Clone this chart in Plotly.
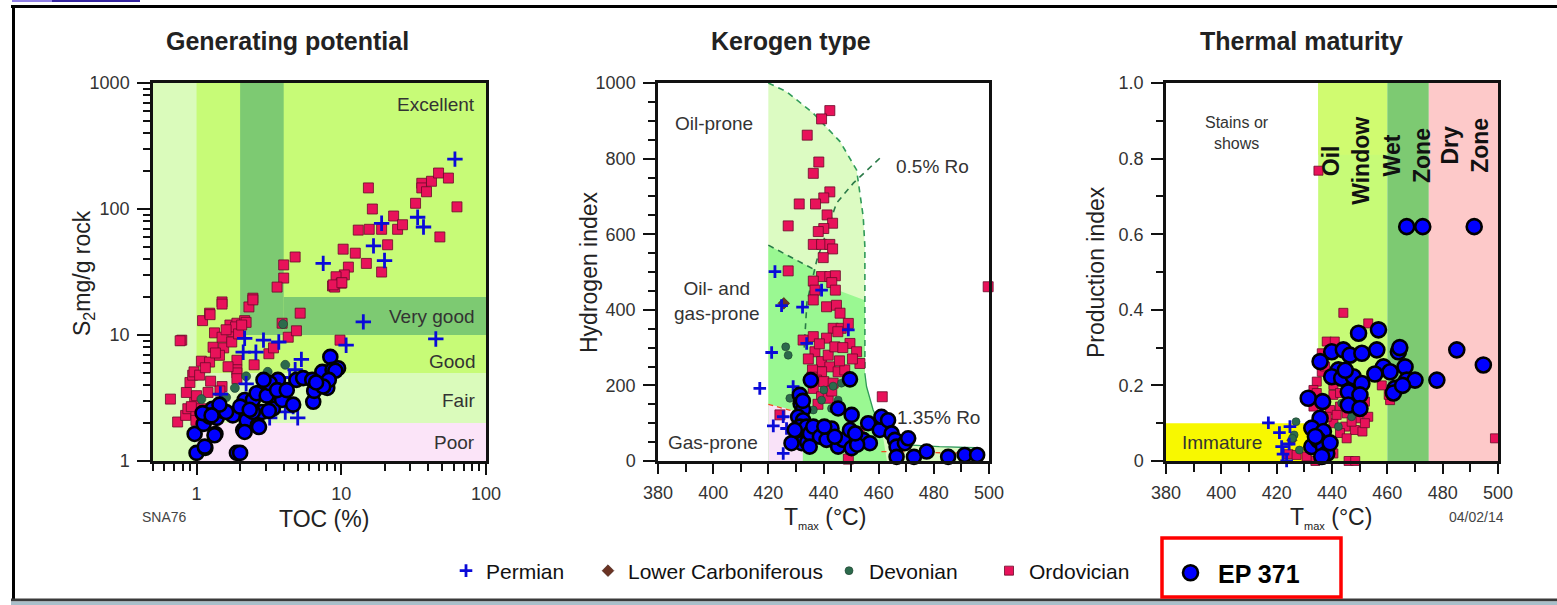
import math
import plotly.graph_objects as go

# ------------------------------------------------------------------
# Data
# ------------------------------------------------------------------
# Generating potential: TOC (%) vs S2 (mg/g rock)
gp_ord_toc = [15.4, 16.4, 13.1, 15.6, 19.0, 23.0, 24.5, 26.5, 20.9, 19.0,
              14.9, 12.5, 10.3, 11.2, 10.5, 9.2, 10.0, 8.7, 9.0, 32.6,
              36.0, 36.0, 38.8, 42.0, 47.0, 55.0, 63.0, 48.0, 4.8, 4.0,
              4.0, 3.6, 2.45, 1.5,
              0.79, 0.77, 0.66, 0.74, 0.84, 0.87, 0.85, 0.90, 0.94, 0.96,
              1.05, 1.08, 0.97, 1.10, 1.23, 1.24, 1.5, 1.3, 1.23, 1.33,
              1.5, 1.54, 1.44, 1.7, 1.78, 1.9, 1.86, 2.15, 2.2, 2.3,
              2.45, 1.9, 1.9, 1.9, 1.9, 2.5, 1.5, 1.45, 1.2, 1.1,
              1.08, 0.99, 0.99, 3.16, 3.4, 3.9, 4.3, 4.9, 5.2, 8.8,
              10.1, 9.8, 1.6, 1.75, 1.95, 2.05, 1.35, 1.15, 1.0, 0.92,
              1.25, 1.65]
gp_ord_s2 = [147, 100, 68, 69, 69, 88, 69, 75, 52, 31.6,
             37, 44.6, 48, 34.6, 30, 29, 25.8, 24.5, 24, 111,
             160, 147, 137, 166, 193, 176, 104, 60, 41.6, 36,
             28.3, 24, 19.6, 18.3,
             9.1, 9.0, 3.1, 2.04, 2.3, 2.6, 3.5, 4.2, 4.8, 5.1,
             4.8, 6.2, 2.9, 13, 14.9, 14.5, 17.6, 8.0, 6.1, 10.4,
             9.6, 7.9, 6.9, 12, 10.6, 12.4, 11.6, 13, 12.6, 16.7,
             19, 6.3, 5.3, 5.0, 4.5, 5.8, 3.9, 3.6, 3.5, 2.4,
             2.6, 2.4, 2.1, 7.1, 7.9, 12.4, 9.6, 10.8, 14.9, 25,
             26, 9.1, 11.0, 8.8, 10.2, 12.0, 7.2, 5.5, 3.3, 2.7,
             4.3, 5.6]
gp_perm_toc = [61, 7.5, 16.7, 19, 19.9, 33.7, 37, 14.2, 45, 10.8, 2.15, 2.9,
               3.7, 2.1, 2.57, 5.3, 4.8, 4.65, 5.0, 4.1, 3.2, 2.2, 1.46, 4.4]
gp_perm_s2 = [249, 37, 51, 77, 39, 86, 72, 12.7, 9.3, 8.3, 9.4, 9.1,
              8.8, 7.3, 7.3, 6.4, 5.3, 2.7, 2.2, 2.45, 2.2, 4.1, 3.4, 4.6]
gp_dev_toc = [3.96, 4.1, 3.1, 2.2, 1.84, 1.6, 1.08]
gp_dev_s2 = [12.2, 5.8, 5.1, 4.7, 3.8, 3.2, 3.1]
gp_ep_toc = [1.0, 1.15, 0.97, 1.12, 1.35, 1.38, 1.29, 1.52, 1.78, 1.9,
             2.0, 2.1, 2.22, 2.15, 2.45, 2.65, 2.83, 2.45, 2.87, 3.1,
             3.37, 3.37, 3.65, 3.96, 3.9, 4.65, 4.9, 5.45, 6.4, 6.5,
             7.1, 7.4, 8.0, 8.4, 8.7, 9.5, 9.1, 8.2, 7.5, 6.3,
             6.7, 1.23, 1.6, 2.0, 2.33, 2.6, 3.05, 3.2, 3.6, 4.2,
             2.9, 1.1, 1.44, 1.27, 1.33, 1.14, 2.7, 2.15, 3.16]
gp_ep_s2 = [1.16, 1.27, 1.64, 1.97, 1.64, 2.2, 2.6, 2.5, 2.3, 1.16,
            1.16, 1.76, 2.1, 3.05, 3.05, 1.93, 2.45, 2.45, 3.65, 3.9,
            3.2, 2.6, 4.4, 3.45, 3.05, 2.8, 4.4, 4.55, 2.95, 3.6,
            4.4, 5.1, 3.8, 6.7, 5.3, 5.45, 5.2, 4.4, 3.9, 4.4,
            4.2, 2.25, 2.45, 2.7, 2.55, 3.45, 3.3, 4.15, 3.65, 3.65,
            4.4, 2.4, 2.8, 2.3, 1.6, 1.3, 1.86, 1.7, 2.5]

# Kerogen type: Tmax (degC) vs hydrogen index
kt_ord_t = [442.3, 439.3, 434.1, 438.3, 436.3, 442.3, 440.1, 437.1, 431.2, 441.3,
            427.2, 443.3, 440.1, 438.1, 436.3, 439.3, 442.3, 443.3, 439.9, 427.2,
            439.3, 442.3, 444.3, 436.3, 443.0, 436.9, 444.3, 436.3, 441.1, 444.7,
            499.7, 446.0, 443.5, 446.4, 445.2, 432.6, 436.3, 441.1, 449.0, 449.6,
            452.0, 453.2, 436.9, 439.3, 441.7, 444.1, 442.3, 445.3, 447.7, 439.3,
            436.0, 437.5, 440.1, 436.3, 439.3, 441.7, 443.5, 461.3, 424.2, 445.8,
            435.8, 452.9, 449.0, 438.5, 447.0, 450.5, 443.0, 438.0, 434.5]
kt_ord_hi = [927, 905, 862, 791, 761, 712, 696, 680, 680, 651,
             622, 629, 615, 607, 573, 573, 573, 561, 538, 503,
             488, 488, 490, 476, 472, 452, 452, 426, 408, 412,
             461, 391, 351, 351, 342, 320, 329, 325, 364, 311,
             289, 258, 289, 263, 280, 302, 249, 236, 241, 236,
             241, 214, 210, 192, 170, 166, 206, 170, 122, 265,
             222, 78, 5, 310, 300, 270, 185, 150, 270]
kt_perm_t = [422.4, 424.8, 432.4, 439.3, 421.2, 433.9, 416.9, 421.8, 426.6, 425.4,
             429.0, 449.0, 425.4]
kt_perm_hi = [501, 411, 407, 452, 287, 311, 192, 93, 86, 20, 197, 347, 117]
kt_dev_t = [426.3, 427.2, 427.8, 440.1, 443.5, 446.5, 442.9, 445.3, 436.3, 439.3]
kt_dev_hi = [302, 280, 166, 188, 198, 206, 139, 161, 135, 161]
kt_lcarb_t = [425.6]
kt_lcarb_hi = [417]
kt_ep_t = [435.4, 431.4, 431.7, 432.6, 430.8, 432.6, 431.4, 433.9, 430.2, 432.1,
           434.1, 435.1, 436.3, 438.7, 441.1, 442.9, 445.3, 445.3, 447.1, 449.6,
           450.2, 450.2, 449.6, 454.4, 456.2, 456.8, 460.4, 461.0, 463.4, 464.7,
           465.9, 466.5, 466.5, 469.5, 470.7, 472.8, 477.4, 485.2, 491.2, 495.7,
           428.4, 429.6, 432.5, 440.3, 444.1, 452.2, 451.5, 435.0]
kt_ep_hi = [214, 175, 152, 136, 117, 108, 91, 91, 56, 47,
            50, 73, 91, 64, 56, 86, 139, 38, 56, 82,
            122, 34, 216, 56, 100, 47, 82, 117, 108, 73,
            56, 38, 11, 47, 60, 11, 25, 11, 16, 16,
            47, 82, 159, 91, 64, 43, 73, 38]

# Kerogen-type field outlines (Tmax, HI)
oil_prone_t = [420, 426.6, 436.3, 446, 452, 454.4, 455, 455, 455.6, 458, 463, 472, 482, 495, 495, 420]
oil_prone_hi = [1000, 977, 920, 845, 770, 646, 567, 232, 197, 135, 70, 45, 38, 30, 0, 0]
oil_gas_t = [420, 437, 446, 455, 455, 455.6, 458, 461, 463, 420]
oil_gas_hi = [571, 505, 450, 425, 232, 197, 135, 90, 0, 0]
gas_prone_t = [420, 426, 431, 432.5, 432.5, 420]
gas_prone_hi = [150, 140, 128, 100, 0, 0]
outer_line_t = [420, 426.6, 436.3, 446, 452, 454.4, 455, 455]
outer_line_hi = [1000, 977, 920, 845, 770, 646, 567, 232]
ro135_line_t = [455, 455.6, 458, 463, 472, 482, 495]
ro135_line_hi = [232, 197, 135, 60, 42, 38, 35]
mixed_line_t = [420, 437]
mixed_line_hi = [571, 505]
ro05_line_t = [460.4, 450.8, 444.7, 437.6, 434, 433]
ro05_line_hi = [801, 735, 682, 532, 420, 300]
gas_top_t = [420, 431]
gas_top_hi = [150, 128]
dry_base_t = [461, 495]
dry_base_hi = [25, 20]

# Thermal maturity: Tmax (degC) vs production index
tm_ord_t = [435.1, 444.1, 453.1, 438.1, 441.0, 436.3, 436.3, 434.5, 440.5, 440.5,
            433.3, 433.3, 439.3, 442.9, 445.3, 449.5, 453.1, 450.7, 451.9, 448.3,
            451.0, 444.8, 440.5, 442.9, 445.3, 439.3, 440.5, 446.0, 448.4, 434.0,
            424.2, 427.2, 430.8, 461.0, 498.9, 437.5, 434.5, 442.9, 448.9, 451.9,
            438.1, 441.7, 447.1, 460.5, 458.0]
tm_ord_pi = [0.768, 0.392, 0.364, 0.316, 0.316, 0.285, 0.236, 0.21, 0.201, 0.175,
             0.188, 0.144, 0.135, 0.144, 0.126, 0.113, 0.117, 0.135, 0.157, 0.082,
             0.078, 0.091, 0.10, 0.074, 0.06, 0.043, 0.02, 0.0, 0.0, 0.0,
             0.018, 0.016, 0.012, 0.161, 0.06, 0.25, 0.18, 0.18, 0.135, 0.10,
             0.117, 0.122, 0.104, 0.175, 0.2]
tm_perm_t = [417, 421, 424.8, 421.8, 423.6, 422.3, 424.5]
tm_perm_pi = [0.101, 0.075, 0.091, 0.038, 0.0, 0.018, 0.045]
tm_dev_t = [427, 426.3, 428.2, 442.3, 447.1, 443.5, 425.7]
tm_dev_pi = [0.104, 0.069, 0.029, 0.091, 0.117, 0.153, 0.06]
tm_lcarb_t = [425.5]
tm_lcarb_pi = [0.055]
tm_ep_t = [467, 472.8, 491.4, 456.8, 449.6, 439.9, 444.1, 446.5, 450.8, 456.2,
           435.7, 442.3, 458.6, 461.0, 464.0, 464.5, 466.4, 467.0, 470.0, 477.9,
           485.1, 494.7, 439.9, 443.5, 447.7, 450.8, 445.9, 450.1, 445.9, 450.1,
           431.4, 436.6, 462.8, 462.2, 465.5, 455.5, 444.8, 435.7, 432.7, 436.9,
           432.7, 435.1, 436.9, 438.1, 436.3, 439.3, 434.0]
tm_ep_pi = [0.62, 0.62, 0.62, 0.347, 0.338, 0.289, 0.294, 0.28, 0.285, 0.294,
            0.263, 0.241, 0.249, 0.236, 0.289, 0.30, 0.249, 0.214, 0.214, 0.214,
            0.294, 0.254, 0.223, 0.219, 0.223, 0.205, 0.183, 0.175, 0.148, 0.139,
            0.166, 0.157, 0.192, 0.18, 0.2, 0.23, 0.24, 0.113, 0.087, 0.078,
            0.038, 0.055, 0.038, 0.02, 0.012, 0.048, 0.065]

# Zone limits
toc_limits = [0.5, 1, 2, 4, 100]
s2_limits = [1, 2, 5, 10, 20, 1000]
tmax_limits = [380, 435, 460, 475, 500]
immature_tmax = 433
immature_pi = 0.1

pi_ticks = [0, 0.2, 0.4, 0.6, 0.8, 1.0]
pi_ticktext = ["0", "0.2", "0.4", "0.6", "0.8", "1.0"]

# ------------------------------------------------------------------
# Figure geometry helpers (pixel -> paper)
# ------------------------------------------------------------------
W, H = 1557, 605
FONT = "Liberation Sans, Arial, Helvetica, sans-serif"


def X(p):
    return p / W


def Y(p):
    return 1 - p / H


TOP, BOT = 83, 461
dom_y = [Y(BOT), Y(TOP)]
dom_x1 = [X(153), X(486)]
dom_x2 = [X(658), X(989)]
dom_x3 = [X(1166), X(1498)]

# colours
LIGHT = "#dafbbb"
BRIGHT = "#c7fb77"
DARK = "#7dca72"
PINK = "#fbe4f8"
ORD_FILL = "#e8125a"
ORD_LINE = "#6a0a28"
PERM = "#0a0ad8"
DEV = "#2c6a4c"
LCARB = "#6b3323"
EP = "#0000ff"

fig = go.Figure()


def ord_trace(x, y, xa, ya, size, show=False):
    return go.Scatter(x=x, y=y, xaxis=xa, yaxis=ya, mode="markers", name="Ordovician",
                      marker=dict(symbol="square", size=size, color=ORD_FILL,
                                  line=dict(color=ORD_LINE, width=0.8)),
                      showlegend=show, legend="legend4", cliponaxis=False, hoverinfo="skip")


def perm_trace(x, y, xa, ya, size, show=False):
    return go.Scatter(x=x, y=y, xaxis=xa, yaxis=ya, mode="markers", name="Permian",
                      marker=dict(symbol="cross-thin", size=size, color=PERM,
                                  line=dict(color=PERM, width=2.8)),
                      showlegend=show, legend="legend", cliponaxis=False, hoverinfo="skip")


def dev_trace(x, y, xa, ya, size, show=False):
    return go.Scatter(x=x, y=y, xaxis=xa, yaxis=ya, mode="markers", name="Devonian",
                      marker=dict(symbol="circle", size=size, color=DEV,
                                  line=dict(color="#1c3c2c", width=0.6)),
                      showlegend=show, legend="legend3", cliponaxis=False, hoverinfo="skip")


def lcarb_trace(x, y, xa, ya, size, show=False):
    return go.Scatter(x=x, y=y, xaxis=xa, yaxis=ya, mode="markers", name="Lower Carboniferous",
                      marker=dict(symbol="diamond", size=size, color=LCARB,
                                  line=dict(color="#3a1a10", width=0.6)),
                      showlegend=show, legend="legend2", cliponaxis=False, hoverinfo="skip")


def ep_trace(x, y, xa, ya, size, show=False):
    return go.Scatter(x=x, y=y, xaxis=xa, yaxis=ya, mode="markers", name="<b>EP 371</b>",
                      marker=dict(symbol="circle", size=size, color=EP,
                                  line=dict(color="#000000", width=2.6)),
                      showlegend=show, legend="legend5", cliponaxis=False, hoverinfo="skip")


# ---------------- Panel 1: generating potential ----------------
fig.add_trace(ord_trace(gp_ord_toc, gp_ord_s2, "x", "y", 10))
fig.add_trace(dev_trace(gp_dev_toc, gp_dev_s2, "x", "y", 9))
fig.add_trace(perm_trace(gp_perm_toc, gp_perm_s2, "x", "y", 11))
fig.add_trace(ep_trace(gp_ep_toc, gp_ep_s2, "x", "y", 14))

# ---------------- Panel 2: kerogen type ----------------
def fill_poly(tx, hy, color):
    return go.Scatter(x=tx, y=hy, xaxis="x2", yaxis="y2", mode="lines", fill="toself",
                      fillcolor=color, line=dict(width=0), showlegend=False, hoverinfo="skip")


def bound_line(tx, hy, color, dash, width=1.6):
    return go.Scatter(x=tx, y=hy, xaxis="x2", yaxis="y2", mode="lines",
                      line=dict(color=color, width=width, dash=dash),
                      showlegend=False, hoverinfo="skip")


fig.add_trace(fill_poly(oil_prone_t, oil_prone_hi, "#dcfbc2"))
fig.add_trace(fill_poly(oil_gas_t, oil_gas_hi, "#9af892"))
fig.add_trace(fill_poly(gas_prone_t, gas_prone_hi, "#f9e2f8"))
fig.add_trace(bound_line(outer_line_t, outer_line_hi, "#2f9a58", "6px,5px"))
fig.add_trace(bound_line(ro135_line_t, ro135_line_hi, "#2f9a58", "solid", 1.3))
fig.add_trace(bound_line(mixed_line_t, mixed_line_hi, "#2a7a48", "6px,5px"))
fig.add_trace(bound_line(ro05_line_t, ro05_line_hi, "#2a7a48", "6px,5px"))
fig.add_trace(bound_line(gas_top_t, gas_top_hi, "#f04a20", "5px,4px", 1.3))
fig.add_trace(bound_line(dry_base_t, dry_base_hi, "#f04a20", "5px,4px", 1.3))

fig.add_trace(ord_trace(kt_ord_t, kt_ord_hi, "x2", "y2", 10))
fig.add_trace(lcarb_trace(kt_lcarb_t, kt_lcarb_hi, "x2", "y2", 9, show=True))
fig.add_trace(dev_trace(kt_dev_t, kt_dev_hi, "x2", "y2", 8))
fig.add_trace(perm_trace(kt_perm_t, kt_perm_hi, "x2", "y2", 9))
fig.add_trace(ep_trace(kt_ep_t, kt_ep_hi, "x2", "y2", 14))

# ---------------- Panel 3: thermal maturity ----------------
fig.add_trace(ord_trace(tm_ord_t, tm_ord_pi, "x3", "y3", 9, show=True))
fig.add_trace(lcarb_trace(tm_lcarb_t, tm_lcarb_pi, "x3", "y3", 8))
fig.add_trace(dev_trace(tm_dev_t, tm_dev_pi, "x3", "y3", 8, show=True))
fig.add_trace(perm_trace(tm_perm_t, tm_perm_pi, "x3", "y3", 9, show=True))
fig.add_trace(ep_trace(tm_ep_t, tm_ep_pi, "x3", "y3", 15, show=True))

# ------------------------------------------------------------------
# Background zones
# ------------------------------------------------------------------
shapes = []


def zone(xref, yref, x0, x1, y0, y1, color):
    shapes.append(dict(type="rect", xref=xref, yref=yref, x0=x0, x1=x1, y0=y0, y1=y1,
                       fillcolor=color, line=dict(width=0), layer="below"))


t0, t1, t2, t3, t4 = toc_limits
s0, s1, s2_, s3, s4, s5 = s2_limits
zone("x", "y", t0, t4, s0, s5, BRIGHT)
zone("x", "y", t0, t1, s0, s5, LIGHT)
zone("x", "y", t1, t4, s1, s2_, LIGHT)
zone("x", "y", t1, t4, s0, s1, PINK)
zone("x", "y", t2, t3, s3, s5, DARK)
zone("x", "y", t3, t4, s3, s4, DARK)

m0, m1, m2, m3, m4 = tmax_limits
zone("x3", "y3", m1, m2, 0, 1, BRIGHT)
zone("x3", "y3", m1, m2, 0.81, 1, "#d0fb70")
zone("x3", "y3", m2, m3, 0, 1, DARK)
zone("x3", "y3", m3, m4, 0, 1, "#fdc9c9")
zone("x3", "y3", m0, immature_tmax, 0, immature_pi, "#f8f800")


# Page frame
def pline(x0, y0, x1, y1, color, width):
    shapes.append(dict(type="line", xref="paper", yref="paper", x0=X(x0), y0=Y(y0),
                       x1=X(x1), y1=Y(y1), line=dict(color=color, width=width)))


def prect(x0, y0, x1, y1, fill, line_color=None, lw=0):
    shapes.append(dict(type="rect", xref="paper", yref="paper", x0=X(x0), y0=Y(y0),
                       x1=X(x1), y1=Y(y1), fillcolor=fill,
                       line=dict(color=line_color or fill, width=lw)))


pline(11, 6.5, W, 6.5, "#000000", 3)
pline(13.5, 5, 13.5, 599, "#000000", 3)
prect(11, 598.5, W, 601.5, "#3a3a3a")
prect(11, 601.5, W, H, "#a9bfca")
prect(12, 0, 52, 2, "#9080e6")
prect(52, 0, 140, 2, "#3424a0")
# highlight box round the EP 371 key
shapes.append(dict(type="rect", xref="paper", yref="paper", x0=X(1162), y0=Y(597),
                   x1=X(1341), y1=Y(538), fillcolor="rgba(0,0,0,0)",
                   line=dict(color="#ff0000", width=3.5)))

# ------------------------------------------------------------------
# Text
# ------------------------------------------------------------------
ann = []


def ptext(text, x, y, size, color="#222", bold=False, angle=0, xanchor="center", align="center"):
    ann.append(dict(text=f"<b>{text}</b>" if bold else text, xref="paper", yref="paper",
                    x=X(x), y=Y(y), xanchor=xanchor, yanchor="middle", showarrow=False,
                    textangle=angle, align=align,
                    font=dict(family=FONT, size=size, color=color)))


def dtext(text, xa, x, y, size, color="#333", bold=False, angle=0, xanchor="center", align="center"):
    ann.append(dict(text=f"<b>{text}</b>" if bold else text, xref=f"{xa} domain",
                    yref=f"{xa.replace('x', 'y')} domain", x=x, y=y, xanchor=xanchor,
                    yanchor="middle", showarrow=False, textangle=angle, align=align,
                    font=dict(family=FONT, size=size, color=color)))


ptext("Generating potential", 287, 41, 25, bold=True)
ptext("Kerogen type", 791, 41, 25, bold=True)
ptext("Thermal maturity", 1301, 41, 25, bold=True)

TMAX = "T<sub><span style='font-size:11px'>max</span></sub> (°C)"
ptext("TOC (%)", 324, 519, 23)
ptext(TMAX, 825, 518, 23)
ptext(TMAX, 1331, 518, 23)
ptext("S<sub>2</sub>mg/g rock", 84, 273, 23, angle=-90)
ptext("Hydrogen index", 589, 272, 23, angle=-90)
ptext("Production index", 1096, 272, 23, angle=-90)
ptext("SNA76", 164, 517, 14, color="#444")
ptext("04/02/14", 1476, 517, 14, color="#444")

dtext("Excellent", "x", 0.973, 0.942, 19, xanchor="right")
dtext("Very good", "x", 0.973, 0.381, 19, xanchor="right")
dtext("Good", "x", 0.973, 0.262, 19, xanchor="right")
dtext("Fair", "x", 0.973, 0.161, 19, xanchor="right")
dtext("Poor", "x", 0.973, 0.048, 19, xanchor="right")

dtext("Oil-prone", "x2", 0.169, 0.892, 19)
dtext("Oil- and<br>gas-prone", "x2", 0.178, 0.423, 19)
dtext("Gas-prone", "x2", 0.166, 0.05, 19)
dtext("0.5% Ro", "x2", 0.828, 0.778, 19)
dtext("1.35% Ro", "x2", 0.846, 0.116, 19)

dtext("Stains or<br>shows", "x3", 0.214, 0.868, 16)
dtext("Immature", "x3", 0.169, 0.048, 19)
dtext("Oil<br>Window", "x3", 0.542, 0.794, 23, color="#111", bold=True, angle=-90)
dtext("Wet<br>Zone", "x3", 0.726, 0.807, 23, color="#111", bold=True, angle=-90)
dtext("Dry<br>Zone", "x3", 0.90, 0.836, 23, color="#111", bold=True, angle=-90)

# ------------------------------------------------------------------
# Axes
# ------------------------------------------------------------------
tickfont = dict(family=FONT, size=18, color="#333")
common = dict(showline=True, linewidth=2.5, linecolor="#111", mirror=True, ticks="outside",
              tickwidth=2, tickcolor="#111", showgrid=False, zeroline=False, tickfont=tickfont,
              ticklabelstandoff=4)

fig.update_layout(
    xaxis=dict(common, domain=dom_x1, anchor="y", type="log",
               range=[math.log10(toc_limits[0]), math.log10(toc_limits[-1])],
               tickvals=[1, 10, 100], ticktext=["1", "10", "100"], ticklen=11,
               minor=dict(dtick="D1", ticks="outside", ticklen=7, tickwidth=2, tickcolor="#111")),
    yaxis=dict(common, domain=dom_y, anchor="x", type="log",
               range=[math.log10(s2_limits[0]), math.log10(s2_limits[-1])],
               tickvals=[1, 10, 100, 1000], ticktext=["1", "10", "100", "1000"], ticklen=13,
               minor=dict(dtick="D1", ticks="outside", ticklen=7, tickwidth=2, tickcolor="#111")),
    xaxis2=dict(common, domain=dom_x2, anchor="y2", range=[380, 500], dtick=20, ticklen=10,
                minor=dict(dtick=10, ticks="outside", ticklen=8, tickwidth=2, tickcolor="#111")),
    yaxis2=dict(common, domain=dom_y, anchor="x2", range=[0, 1000], dtick=200, ticklen=12,
                minor=dict(dtick=50, ticks="outside", ticklen=7, tickwidth=2, tickcolor="#111")),
    xaxis3=dict(common, domain=dom_x3, anchor="y3", range=[380, 500], dtick=20, ticklen=10,
                minor=dict(dtick=10, ticks="outside", ticklen=8, tickwidth=2, tickcolor="#111")),
    yaxis3=dict(common, domain=dom_y, anchor="x3", range=[0, 1], tickvals=pi_ticks,
                ticktext=pi_ticktext, ticklen=12,
                minor=dict(dtick=0.1, ticks="outside", ticklen=7, tickwidth=2, tickcolor="#111")),
)

legend_common = dict(yref="paper", xref="paper", y=Y(571), xanchor="left", yanchor="middle",
                     orientation="h", bgcolor="rgba(0,0,0,0)", borderwidth=0,
                     font=dict(family=FONT, size=21, color="#111"))
fig.update_layout(
    width=W, height=H,
    margin=dict(l=0, r=0, t=0, b=0, autoexpand=False),
    paper_bgcolor="white", plot_bgcolor="white",
    font=dict(family=FONT, size=18, color="#333"),
    showlegend=True,
    legend=dict(legend_common, x=X(446)),
    legend2=dict(legend_common, x=X(588)),
    legend3=dict(legend_common, x=X(829)),
    legend4=dict(legend_common, x=X(989)),
    legend5=dict(legend_common, x=X(1163), y=Y(573),
                 font=dict(family=FONT, size=25, color="#000"), itemwidth=45),
    shapes=shapes,
    annotations=ann,
)

fig.write_html("out.html")
